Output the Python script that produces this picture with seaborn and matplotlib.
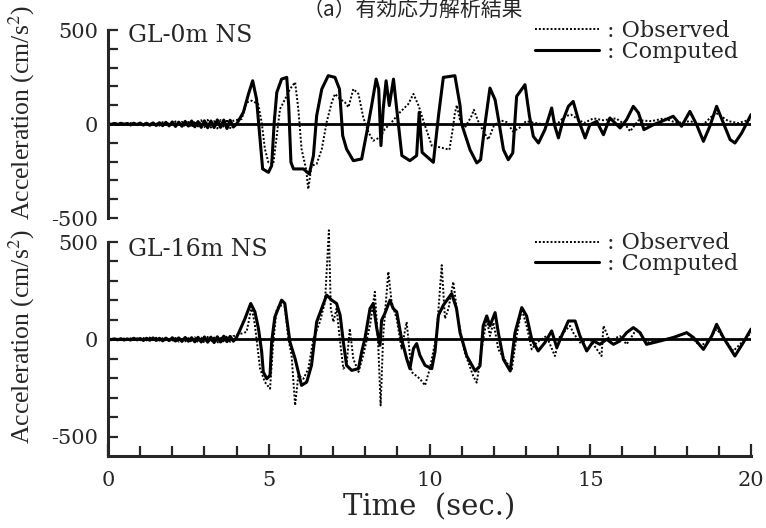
#!/usr/bin/env python3
"""
Acceleration time histories, observed vs computed (GL-0m NS / GL-16m NS).
Outputs: out.png
"""
import numpy as np
import matplotlib.pyplot as plt
import seaborn as sns

# ---- data ----
# early low-amplitude part, sampled every 0.1 s from 0.0 to 3.9 s
noise_t = np.round(np.arange(0.0, 4.0, 0.1), 1)
top_obs_noise = [0, 3, -2, 4, -3, 2, -4, 5, -3, 4, -6, 5, -4, 8, -7, 6, -9, 10, -8, 7,
                 -12, 14, -10, 12, -15, 11, -18, 16, -13, 20, -17, 22, -19, 15, -24, 21, -18, 25, -22, 18]
top_comp_noise = [0, -2, 3, -3, 4, -2, 3, -5, 4, -3, 5, -6, 4, -7, 6, -8, 7, -9, 9, -10,
                  11, -13, 10, -12, 14, -11, 16, -15, 13, -18, 17, -20, 16, -19, 22, -18, 21, -24, 20, -16]
bot_obs_noise = [0, 2, -3, 3, -2, 4, -3, 5, -4, 6, -5, 7, -6, 9, -4, 8, -7, 6, -9, 8,
                 -10, 7, -12, 9, -11, 6, -14, 10, -16, 8, -18, 12, -15, 9, -20, 14, -17, 19, -13, 16]
bot_comp_noise = [0, -2, 2, -3, 3, -4, 2, -4, 5, -3, 4, -6, 5, -5, 7, -6, 5, -8, 6, -7,
                  8, -9, 7, -11, 9, -10, 8, -13, 10, -14, 12, -15, 11, -17, 13, -14, 16, -12, 15, -10]

top_obs_t = [4.16, 4.31, 4.47, 4.67, 4.78, 4.88, 4.99, 5.14, 5.25, 5.35, 5.51, 5.66, 5.82, 5.92,
             6.02, 6.16, 6.23, 6.33, 6.49, 6.65, 6.80, 6.96, 7.06, 7.22, 7.37, 7.48, 7.63, 7.79,
             7.94, 8.10, 8.25, 8.46, 8.61, 8.82, 9.08, 9.34, 9.50, 9.66, 9.86, 10.07, 10.33,
             10.62, 10.72, 10.79, 10.85, 10.95, 11.1, 11.3, 11.38, 11.5, 11.65, 11.83, 12.0,
             12.2, 12.4, 12.6, 12.8, 13.0, 13.3, 13.7, 14.0, 14.2, 14.4, 14.8, 15.1, 15.4, 15.8,
             16.1, 16.24, 16.5, 16.9, 17.3, 17.7, 18.1, 18.5, 18.9, 19.3, 19.6, 20.0]
top_obs_a = [27, 115, 124, 106, 9, -133, -204, -213, -62, 80, 133, 186, 222, 80,
             -133, -239, -346, -222, -213, -133, 9, 115, 160, 133, 115, 89, 186, 160,
             35, -44, -89, -71, -27, 9, 62, 106, 160, 98, -9, -115, -124,
             -137, -30, 58, 100, 20, -20, 40, 76, 20, -30, -83, -10,
             20, 10, -40, -20, 15, 5, -5, 5, 40, 50, 5, 30, 20, 30,
             -5, -39, 20, 15, 30, 5, 15, -5, 60, 15, 5, 25]

top_comp_t = [4.00, 4.21, 4.37, 4.50, 4.62, 4.73, 4.81, 4.99, 5.09, 5.17, 5.25, 5.40, 5.56, 5.62,
              5.69, 5.77, 6.08, 6.26, 6.39, 6.49, 6.65, 6.85, 7.06, 7.20, 7.30, 7.42, 7.63, 7.89,
              8.05, 8.20, 8.34, 8.42, 8.49, 8.56, 8.65, 8.75, 8.88, 8.98, 9.14, 9.39, 9.60, 9.68,
              9.77, 10.12, 10.28, 10.43, 10.79, 10.95, 11.00, 11.26, 11.47, 11.59, 11.73, 11.88,
              12.04, 12.17, 12.30, 12.45, 12.59, 12.71, 12.97, 13.11, 13.23, 13.39, 13.59, 13.80,
              13.90, 14.01, 14.16, 14.32, 14.47, 14.63, 14.84, 14.99, 15.20, 15.41, 15.61, 15.93,
              16.13, 16.34, 16.50, 16.67, 16.96, 17.22, 17.58, 17.84, 18.10, 18.31, 18.52, 18.72,
              18.93, 19.14, 19.35, 19.50, 19.71, 19.87, 20.0]
top_comp_a = [0, 62, 160, 230, 133, -80, -239, -257, -222, 9, 168, 239, 248, 98,
              -204, -239, -239, -266, -168, 44, 186, 257, 248, 186, -62, -133, -195, -186,
              -44, 98, 239, 186, -115, 80, 230, 98, 239, 80, -168, -195, -168, 62,
              -151, -204, 44, 248, 257, 98, 0, -137, -207, -190, 5, 191,
              129, 0, -137, -190, -154, 147, 209, 41, -66, -101, -30, 85,
              -12, -74, 23, 94, 120, 23, -74, -4, 14, -57, 32, -21,
              23, 94, 59, -30, -4, 14, 41, -12, 67, -4, -92, -12,
              94, 5, -83, -101, -48, 5, 50]

bot_obs_t = [4.31, 4.47, 4.57, 4.73, 4.88, 5.04, 5.14, 5.25, 5.35, 5.50, 5.61, 5.71, 5.82, 5.92,
             6.08, 6.23, 6.39, 6.59, 6.75, 6.87, 6.93, 7.01, 7.11, 7.22, 7.32, 7.42, 7.52, 7.63,
             7.79, 7.94, 8.15, 8.30, 8.41, 8.48, 8.56, 8.72, 8.82, 8.98, 9.13, 9.29, 9.44, 9.70,
             9.86, 10.01, 10.22, 10.38, 10.48, 10.59, 10.74, 10.90, 11.10, 11.36, 11.47, 11.62,
             11.78, 11.88, 11.99, 12.14, 12.40, 12.56, 12.71, 12.87, 13.02, 13.18, 13.33, 13.64,
             13.90, 14.06, 14.37, 14.47, 14.68, 14.99, 15.35, 15.41, 15.61, 15.92, 16.13, 16.44,
             16.75, 17.07, 17.58, 18.00, 18.41, 18.62, 18.93, 19.14, 19.45, 19.76, 20.0]
bot_obs_a = [38, 167, 72, -151, -220, -254, -14, 158, 175, 167, 3, -82, -340, -185,
             -203, -151, 3, 89, 192, 560, 158, 89, 158, -14, -151, -134, 55, -100,
             -168, -82, 72, 244, -48, -340, 21, 347, 192, 106, -48, 89, -168, -203,
             -237, -151, 21, 381, 106, 158, 295, 89, -69, -189, -223, -52,
             103, 17, 86, -52, -120, -154, 17, 155, 69, -52, -17, 17,
             -86, 17, 69, 34, -17, 0, -86, 69, -9, 17, -26, 52,
             -17, -9, 9, 34, -34, -17, 52, 9, -60, -9, 34]

bot_comp_t = [4.00, 4.10, 4.26, 4.44, 4.57, 4.68, 4.78, 4.83, 4.94, 5.04, 5.09, 5.19, 5.40, 5.50,
              5.56, 5.66, 5.82, 6.02, 6.18, 6.33, 6.49, 6.80, 6.96, 7.11, 7.22, 7.32, 7.42, 7.58,
              7.79, 7.89, 7.99, 8.15, 8.25, 8.36, 8.46, 8.51, 8.61, 8.77, 8.87, 8.98, 9.13, 9.29,
              9.39, 9.50, 9.60, 9.70, 9.86, 10.07, 10.17, 10.28, 10.43, 10.69, 10.84, 10.95,
              11.16, 11.42, 11.57, 11.67, 11.78, 11.88, 12.04, 12.14, 12.30, 12.51, 12.66, 12.87,
              13.02, 13.18, 13.38, 13.59, 13.80, 13.96, 14.11, 14.32, 14.53, 14.68, 14.89, 15.10,
              15.30, 15.51, 15.72, 15.92, 16.13, 16.34, 16.55, 16.75, 17.17, 17.58, 18.00, 18.21,
              18.52, 18.78, 18.93, 19.14, 19.50, 19.76, 20.0]
bot_comp_a = [10, 46, 106, 184, 141, 55, -65, -168, -203, -185, -14, 115, 201, 184,
              106, -14, -100, -237, -220, -134, 89, 227, 201, 184, 124, -14, -134, -160,
              -151, -65, 3, 158, 184, 55, -31, 98, 132, 201, 158, 141, 3, -100,
              -151, -48, -22, -82, -134, -151, -65, 124, 175, 235, 158, 34,
              -86, -163, -137, 69, 120, 69, 137, 34, -103, -163, 34, 163,
              120, 0, -60, -17, 43, -43, 17, 94, 94, 17, -60, -9,
              -26, 0, -26, -9, 34, 60, 34, -26, -9, 9, 34, 9,
              -52, 17, 77, 9, -86, -17, 52]

panels = [
    ("GL-0m NS", top_obs_noise + top_obs_a, list(noise_t) + top_obs_t,
     top_comp_noise + top_comp_a, list(noise_t) + top_comp_t),
    ("GL-16m NS", bot_obs_noise + bot_obs_a, list(noise_t) + bot_obs_t,
     bot_comp_noise + bot_comp_a, list(noise_t) + bot_comp_t),
]

sns.set_theme(style="ticks")
plt.rcParams["font.family"] = ["DejaVu Serif"]
plt.rcParams["mathtext.fontset"] = "stix"

fig = plt.figure(figsize=(7.66, 5.28), dpi=100)
ax_top = fig.add_axes([108 / 766, 1 - 218 / 528, 643 / 766, 188 / 528])
ax_bot = fig.add_axes([108 / 766, 1 - 456 / 528, 643 / 766, 214 / 528])

name_y = [0.973, 0.963]
legend_y = [1.055, 1.045]
for i, (ax, (name, obs_a, obs_t, comp_a, comp_t)) in enumerate(zip([ax_top, ax_bot], panels)):
    ax.axhline(0, color="black", lw=2.0, zorder=1)
    sns.lineplot(x=obs_t, y=obs_a, ax=ax, color="black", lw=1.4, linestyle=(0, (1, 1)),
                 sort=False, estimator=None, label=": Observed", clip_on=False)
    sns.lineplot(x=comp_t, y=comp_a, ax=ax, color="black", lw=2.2,
                 sort=False, estimator=None, label=": Computed")
    ax.set_xlim(0, 20)
    ax.set_yticks([-500, 0, 500])
    ax.set_yticklabels(["-500", "0", "500"], fontsize=15)
    ax.set_yticks(np.arange(-500, 501, 100), minor=True)
    ax.tick_params(axis="y", which="both", direction="in", length=7, width=1.6, pad=7)
    ax.set_ylabel("Acceleration (cm/s$^2$)", fontsize=18.5, family="Liberation Serif")
    ax.spines["left"].set_linewidth(2.2)
    ax.spines["bottom"].set_linewidth(2.2)
    sns.despine(ax=ax, top=True, right=True)
    ax.text(0.031, name_y[i], name, transform=ax.transAxes, fontsize=17, va="center", ha="left")
    ax.legend(loc="upper right", frameon=False, fontsize=16, handlelength=2.9,
              handletextpad=0.35, borderaxespad=0.0, borderpad=0.0, labelspacing=-0.05,
              bbox_to_anchor=(0.98, legend_y[i]))

ax_top.set_ylim(-500, 500)
ax_top.spines["bottom"].set_visible(False)
ax_top.tick_params(axis="x", which="both", bottom=False, labelbottom=False)
ax_top.yaxis.set_label_coords(-0.11, 0.56)

ax_bot.set_ylim(-600, 500)
ax_bot.set_xticks([0, 5, 10, 15, 20])
ax_bot.set_xticks(np.arange(0, 21, 1), minor=True)
ax_bot.set_xticklabels(["0", "5", "10", "15", "20"], fontsize=15)
ax_bot.tick_params(axis="x", which="major", direction="in", length=9, width=1.6, pad=11)
ax_bot.tick_params(axis="x", which="minor", direction="in", length=7, width=1.6)
ax_bot.set_xlabel("Time  (sec.)", fontsize=21, labelpad=2)
ax_bot.yaxis.set_label_coords(-0.11, 0.561)

fig.text(413 / 766, 1 - 16 / 528, "（a）有効応力解析結果", ha="center", va="baseline",
         fontsize=15, family=["Noto Sans CJK JP", "DejaVu Sans"])

fig.savefig("out.png", dpi=100)
plt.close(fig)
